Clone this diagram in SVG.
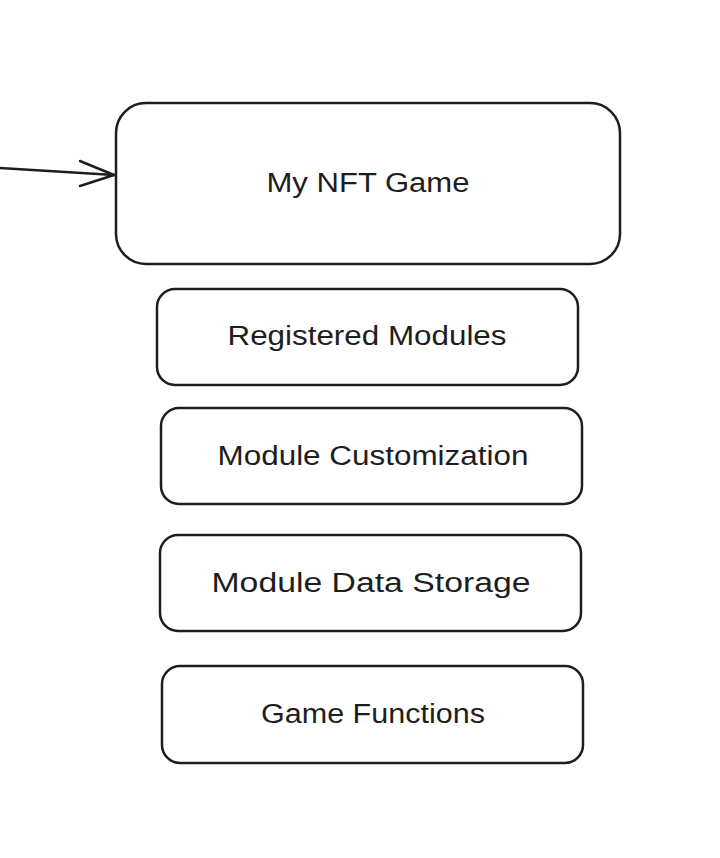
<svg xmlns="http://www.w3.org/2000/svg" width="720" height="858" viewBox="0 0 720 858">
<style>
.box{fill:#ffffff;stroke:#1e1e1e;stroke-width:2.5}
.lbl{font-family:"Liberation Sans",Arial,sans-serif;font-size:27px;fill:#1e1e1e;text-anchor:middle;dominant-baseline:central}
.conn{fill:none;stroke:#1e1e1e;stroke-width:2.5;stroke-linecap:round;stroke-linejoin:round}
</style>
<rect width="720" height="858" fill="#ffffff"/>
<g id="connectors">
<path class="conn" d="M0 168 L114 175"/>
<path class="conn" d="M80 161 L114 175 L80 186"/>
</g>
<g id="node-game">
<rect class="box" x="116" y="103" width="504" height="161" rx="30"/>
<text class="lbl" x="368" y="183" textLength="203" lengthAdjust="spacingAndGlyphs">My NFT Game</text>
</g>
<g id="node-registered">
<rect class="box" x="157" y="289" width="421" height="96" rx="18"/>
<text class="lbl" x="367" y="336" textLength="279" lengthAdjust="spacingAndGlyphs">Registered Modules</text>
</g>
<g id="node-customization">
<rect class="box" x="161" y="408" width="421" height="96" rx="18"/>
<text class="lbl" x="373" y="456" textLength="311" lengthAdjust="spacingAndGlyphs">Module Customization</text>
</g>
<g id="node-storage">
<rect class="box" x="160" y="535" width="421" height="96" rx="18"/>
<text class="lbl" x="371" y="583" textLength="319" lengthAdjust="spacingAndGlyphs">Module Data Storage</text>
</g>
<g id="node-functions">
<rect class="box" x="162" y="666" width="421" height="97" rx="18"/>
<text class="lbl" x="373" y="714" textLength="224" lengthAdjust="spacingAndGlyphs">Game Functions</text>
</g>
</svg>
